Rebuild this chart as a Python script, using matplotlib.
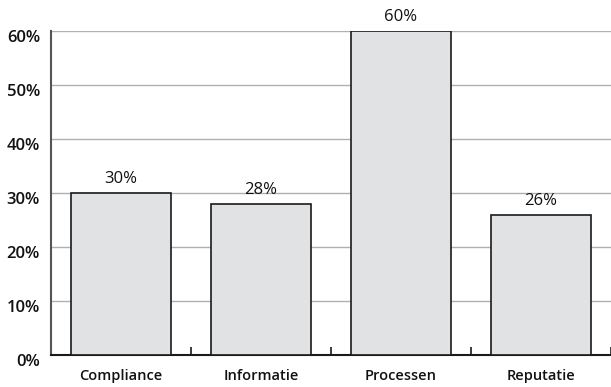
import matplotlib
matplotlib.use("Agg")
import matplotlib.pyplot as plt
import matplotlib.transforms as mtransforms
from matplotlib.ticker import FixedLocator

categories = ["Compliance", "Informatie", "Processen", "Reputatie"]
values = [30, 28, 60, 26]
y_ticks = [0, 10, 20, 30, 40, 50, 60]
y_tick_labels = ["0%", "10%", "20%", "30%", "40%", "50%", "60%"]

plt.rcParams["font.family"] = ["Open Sans", "DejaVu Sans"]

fig = plt.figure(figsize=(6.11, 3.87), dpi=100)
ax = fig.add_axes([0.0835, 0.0827, 0.9165, 0.8373])

x = list(range(len(categories)))
ax.bar(x, values, width=0.72, color="#e1e2e4", edgecolor="#1a1a1a", linewidth=1.2, zorder=3)

for xi, v in zip(x, values):
    ax.text(xi, v + 1.1, f"{v}%", ha="center", va="bottom", fontsize=12, color="#111111")

ax.set_xlim(-0.5, len(categories) - 0.5)
ax.set_ylim(0, 60)
ax.set_yticks(y_ticks)
ax.set_yticklabels(y_tick_labels, fontsize=12, fontweight="semibold", color="#111111")
ax.set_xticks(x)
ax.set_xticklabels(categories, fontsize=10.5, fontweight="semibold", color="#111111")
ax.tick_params(axis="x", which="major", length=0, pad=10)
ax.tick_params(axis="y", length=0, pad=8)
ax.xaxis.set_minor_locator(FixedLocator([0.5, 1.5, 2.5, 3.5]))
ax.tick_params(axis="x", which="minor", direction="in", length=5.5, width=1.2, color="#1a1a1a")

# y labels sit slightly below their gridlines
offset = mtransforms.ScaledTranslation(0, -5 / 100, fig.dpi_scale_trans)
for lbl in ax.get_yticklabels():
    lbl.set_transform(lbl.get_transform() + offset)

ax.grid(axis="y", color="#b0b0b0", linewidth=1.0, zorder=0)
for side in ["top", "right"]:
    ax.spines[side].set_visible(False)
ax.spines["left"].set_color("#555555")
ax.spines["left"].set_linewidth(1.5)
ax.spines["bottom"].set_color("#1a1a1a")
ax.spines["bottom"].set_linewidth(1.5)

fig.savefig("out.png", dpi=100)
